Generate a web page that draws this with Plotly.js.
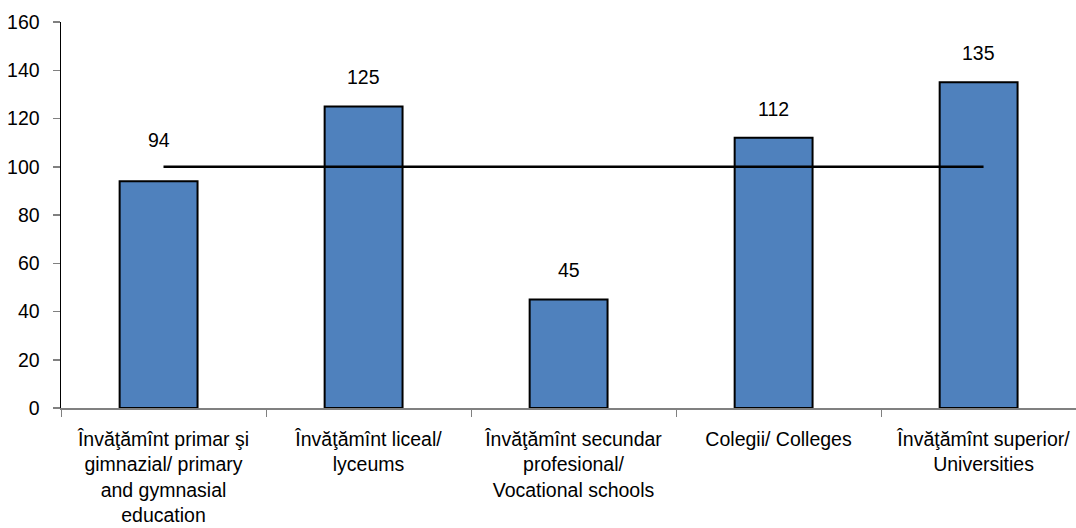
<!DOCTYPE html>
<html>
<head>
<meta charset="utf-8">
<script src="https://cdn.plot.ly/plotly-3.0.1.min.js"></script>
<style>html,body{margin:0;padding:0;background:#fff;}#chart{width:1076px;height:528px;}</style>
</head>
<body>
<div id="chart"></div>
<script>
const categories = [
  "Învăţămînt primar şi<br>gimnazial/ primary<br>and gymnasial<br>education",
  "Învăţămînt liceal/<br>lyceums",
  "Învăţămînt secundar<br>profesional/<br>Vocational schools",
  "Colegii/ Colleges",
  "Învăţămînt superior/<br>Universities"
];
const values = [94, 125, 45, 112, 135];
const reference = [100, 100, 100, 100, 100];
const yTicks = [0, 20, 40, 60, 80, 100, 120, 140, 160];

const FONT = '"Liberation Sans", Arial, sans-serif';

const bars = {
  type: 'bar',
  x: categories,
  y: values,
  width: 0.38,
  offset: -0.214,
  marker: {color: '#4F81BD', line: {color: '#000000', width: 2}},
  hoverinfo: 'none'
};
const line = {
  type: 'scatter',
  mode: 'lines',
  x: categories,
  y: reference,
  line: {color: '#000000', width: 2.5},
  hoverinfo: 'none'
};

const annotations = values.map((v, i) => {
  const nearLine = v < reference[i] && v + 12 > reference[i] - 6;
  return {
    x: categories[i], y: v, xref: 'x', yref: 'y',
    text: String(v), showarrow: false,
    xshift: -5,
    yshift: nearLine ? 41 : 29,
    font: {family: FONT, size: 19.5, color: '#000'}
  };
});

const layout = {
  width: 1076, height: 528,
  margin: {l: 61, r: 0, t: 22, b: 120},
  paper_bgcolor: '#fff', plot_bgcolor: '#fff',
  showlegend: false,
  bargap: 0,
  font: {family: FONT, size: 19.5, color: '#000'},
  xaxis: {
    type: 'category',
    range: [-0.5, 4.451],
    tickson: 'boundaries',
    ticks: 'outside', ticklen: 7, tickcolor: '#808080', tickwidth: 1,
    showline: true, linecolor: '#808080', linewidth: 1.5,
    showgrid: false, zeroline: false,
    ticklabelstandoff: 13,
    tickfont: {family: FONT, size: 19.5, color: '#000'},
    fixedrange: true
  },
  yaxis: {
    range: [0, 160],
    tickvals: yTicks,
    ticks: 'outside', ticklen: 7, tickcolor: '#808080', tickwidth: 1.5,
    showline: true, linecolor: '#000', linewidth: 1.5,
    showgrid: false, zeroline: false,
    ticklabelstandoff: 9,
    tickfont: {family: FONT, size: 19.5, color: '#000'},
    fixedrange: true
  },
  annotations: annotations
};

Plotly.newPlot('chart', [bars, line], layout, {displayModeBar: false, staticPlot: true});
</script>
</body>
</html>
